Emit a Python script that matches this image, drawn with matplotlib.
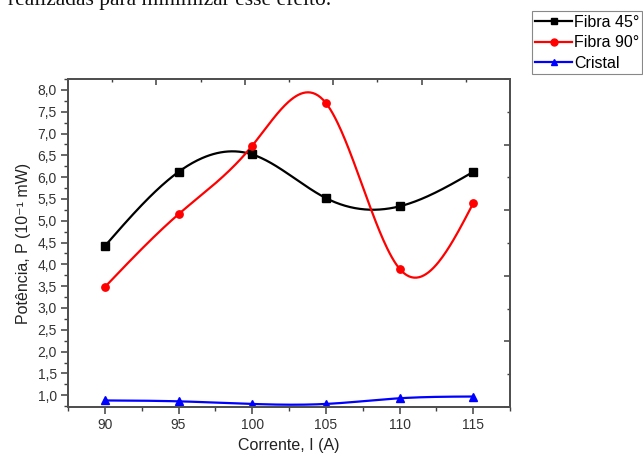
import numpy as np
import matplotlib
matplotlib.use('Agg')
import matplotlib.pyplot as plt
import matplotlib.ticker as ticker

plt.rcParams['font.family'] = ['Liberation Sans', 'DejaVu Sans']

# data
corrente = np.array([90, 95, 100, 105, 110, 115])
fibra45 = np.array([4.42, 6.12, 6.52, 5.52, 5.33, 6.12])
fibra90 = np.array([3.48, 5.15, 6.72, 7.70, 3.90, 5.40])
cristal = np.array([0.88, 0.86, 0.80, 0.80, 0.93, 0.97])


def natural_spline(x, y, n=300):
    # natural cubic spline through the points (Origin "spline" connection)
    x = np.asarray(x, float)
    y = np.asarray(y, float)
    k = len(x)
    h = np.diff(x)
    A = np.zeros((k, k))
    b = np.zeros(k)
    A[0, 0] = 1
    A[-1, -1] = 1
    for i in range(1, k - 1):
        A[i, i - 1] = h[i - 1]
        A[i, i] = 2 * (h[i - 1] + h[i])
        A[i, i + 1] = h[i]
        b[i] = 6 * ((y[i + 1] - y[i]) / h[i] - (y[i] - y[i - 1]) / h[i - 1])
    M = np.linalg.solve(A, b)
    xs = np.linspace(x[0], x[-1], n)
    idx = np.clip(np.searchsorted(x, xs) - 1, 0, k - 2)
    x0, x1 = x[idx], x[idx + 1]
    hh = x1 - x0
    t0 = x1 - xs
    t1 = xs - x0
    ys = (M[idx] * t0**3 + M[idx + 1] * t1**3) / (6 * hh) \
        + (y[idx] / hh - M[idx] * hh / 6) * t0 \
        + (y[idx + 1] / hh - M[idx + 1] * hh / 6) * t1
    return xs, ys


fig = plt.figure(figsize=(6.43, 4.55), dpi=100)
ax = fig.add_axes([0.1058, 0.1055, 0.6874, 0.7209])

series = [
    (fibra45, 'black', 's', 'Fibra 45°'),
    (fibra90, 'red', 'o', 'Fibra 90°'),
    (cristal, 'blue', '^', 'Cristal'),
]
for y, c, m, lab in series:
    xs, ys = natural_spline(corrente, y)
    ax.plot(xs, ys, '-', color=c, linewidth=1.6, zorder=2)
    ax.plot(corrente, y, linestyle='none', marker=m, color=c, markersize=5.3, zorder=3)
    ax.plot([], [], '-', color=c, linewidth=1.6, marker=m, markersize=5, label=lab)

ax.set_xlim(87.5, 117.5)
ax.set_ylim(0.73, 8.25)
ax.xaxis.set_major_locator(ticker.MultipleLocator(5))
ax.xaxis.set_minor_locator(ticker.MultipleLocator(2.5))
ax.yaxis.set_major_locator(ticker.MultipleLocator(0.5))
ax.yaxis.set_minor_locator(ticker.MultipleLocator(0.25))
ax.yaxis.set_major_formatter(ticker.FuncFormatter(lambda v, p: ('%.1f' % v).replace('.', ',')))
ax.tick_params(which='major', direction='out', length=5, width=1.1, color='#404040',
               labelsize=10, labelcolor='#333333', pad=3)
ax.tick_params(which='minor', direction='out', length=3, width=1.0, color='#404040')
for s in ax.spines.values():
    s.set_color('#505050')
    s.set_linewidth(1.3)

# mirrored ticks on top and right (inward, different spacing)
axt = ax.twiny()
axt.set_xlim(0, 1)
axt.xaxis.set_major_locator(ticker.MultipleLocator(0.2))
axt.xaxis.set_minor_locator(ticker.MultipleLocator(0.1))
axt.tick_params(which='both', direction='in', labeltop=False, color='#404040')
axt.tick_params(which='major', length=4, width=1.1)
axt.tick_params(which='minor', length=2.5, width=1.0)
axr = ax.twinx()
axr.set_ylim(0, 1)
axr.yaxis.set_major_locator(ticker.MultipleLocator(0.2))
axr.yaxis.set_minor_locator(ticker.MultipleLocator(0.1))
axr.tick_params(which='both', direction='in', labelright=False, color='#404040')
axr.tick_params(which='major', length=4, width=1.1)
axr.tick_params(which='minor', length=2.5, width=1.0)
for a in (axt, axr):
    for s in a.spines.values():
        s.set_color('#505050')
        s.set_linewidth(1.3)

ax.set_xlabel('Corrente, I (A)', fontsize=11.5, color='#222222', labelpad=4)
ax.set_ylabel('Potência, P (10⁻¹ mW)', fontsize=11.5, color='#222222', labelpad=5)

h, l = ax.get_legend_handles_labels()
leg = fig.legend(h, l, loc='upper right', bbox_to_anchor=(0.999, 0.975), fontsize=11.5,
                 fancybox=False, framealpha=1, edgecolor='#888888', handlelength=2.3,
                 handletextpad=0.1, borderpad=0.2, labelspacing=0.35, borderaxespad=0)
leg.get_frame().set_linewidth(0.8)

# cut-off line of body text above the chart
fig.text(0.012, 0.989, 'realizadas para minimizar esse efeito.', family='Liberation Serif',
         fontsize=15.5, va='baseline', ha='left', color='#111111')

fig.savefig('out.png', dpi=100)
